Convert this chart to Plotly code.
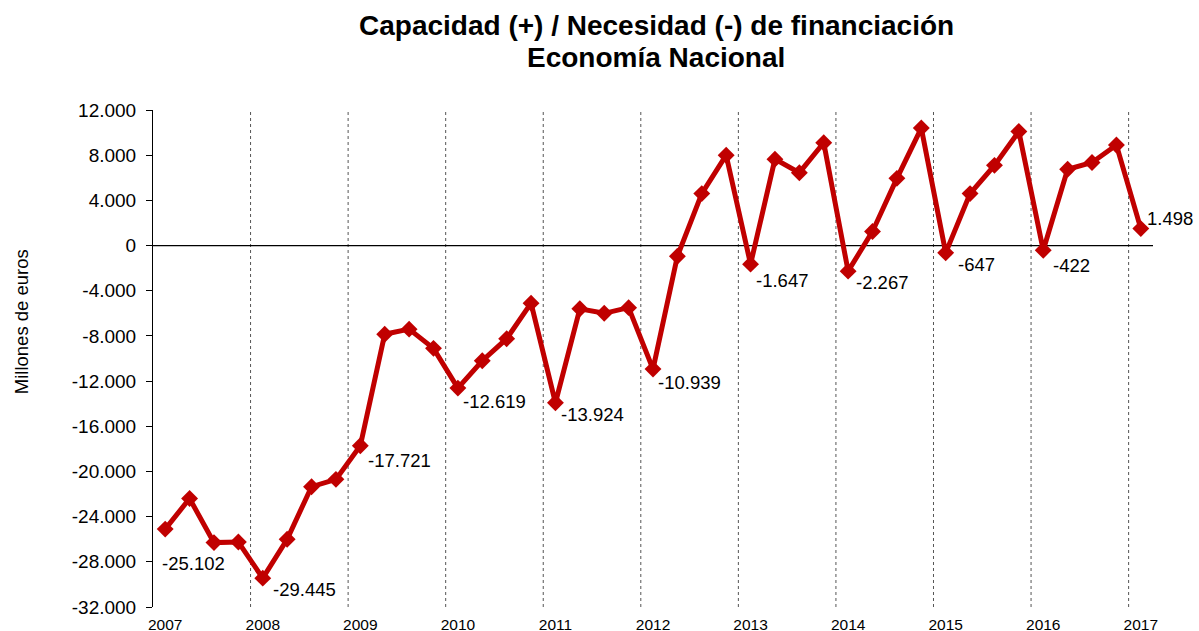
import plotly.graph_objects as go

quarters = [f"{y}T{q}" for y in range(2007, 2017) for q in range(1, 5)] + ["2017T1"]
values = [-25102, -22400, -26300, -26250, -29445, -26000, -21350, -20700,
          -17721, -7850, -7400, -9100, -12619, -10200, -8250, -5100,
          -13924, -5600, -6000, -5500, -10939, -950, 4600, 8000,
          -1647, 7650, 6450, 9100, -2267, 1250, 5950, 10400,
          -647, 4600, 7100, 10100, -422, 6750, 7350, 8900, 1498]
year_labels = [str(y) for y in range(2007, 2018)]
y_ticks = list(range(-32000, 12001, 4000))
title_lines = ["Capacidad (+) / Necesidad (-) de financiación", "Economía Nacional"]
labeled_idx = [0, 4, 8, 12, 16, 20, 24, 28, 32, 36, 40]
label_shifts = {0: (-5, -34), 4: (8, -11), 8: (6, -15), 12: (3, -13), 16: (4, -12),
                20: (3, -13), 24: (3, -16), 28: (6, -11), 32: (10, -12), 36: (8, -15), 40: (4, 10)}

FONT = "Liberation Sans, Arial, sans-serif"

def fmt(v):
    s = f"{abs(v):,}".replace(",", ".")
    return ("-" if v < 0 else "") + s

x = list(range(len(values)))
fig = go.Figure()
fig.add_trace(go.Scatter(
    x=x, y=values, mode="lines+markers",
    line=dict(color="#C00000", width=5),
    marker=dict(symbol="diamond", size=13, color="#C00000"),
    hovertext=quarters, showlegend=False))

for i in labeled_idx:
    dx, dy = label_shifts[i]
    fig.add_annotation(x=x[i], y=values[i], text=fmt(values[i]), showarrow=False,
                       xanchor="left", yanchor="middle", xshift=dx, yshift=dy,
                       font=dict(size=18.5, color="#000", family=FONT))

# dashed year separators
for k in range(1, 11):
    fig.add_shape(type="line", xref="x", yref="paper", x0=4 * k - 0.5, x1=4 * k - 0.5,
                  y0=0, y1=1, line=dict(color="#555", width=1, dash="dot"), layer="below")
# zero line
fig.add_shape(type="line", xref="paper", yref="y", x0=0, x1=1, y0=0, y1=0,
              line=dict(color="#000", width=1.2), layer="below")

fig.add_annotation(xref="paper", yref="paper", x=-0.132, xanchor="center",
                   y=0.573, yanchor="middle", text="Millones de euros",
                   textangle=-90, showarrow=False,
                   font=dict(size=18.5, color="#000", family=FONT))

# title (two lines placed separately)
for line, ypos in zip(title_lines, [1.171, 1.1066]):
    fig.add_annotation(xref="paper", yref="paper", x=0.503, xanchor="center",
                       y=ypos, yanchor="middle", text=f"<b>{line}</b>",
                       showarrow=False, font=dict(size=28, color="#000", family=FONT))

fig.update_layout(
    width=1199, height=631,
    margin=dict(l=153, r=46, t=110, b=24),
    paper_bgcolor="white", plot_bgcolor="white",
    font=dict(family=FONT, color="#000"),
    xaxis=dict(range=[-0.5, 40.5], tickvals=list(range(0, 41, 4)), ticktext=year_labels,
               showgrid=False, zeroline=False, showline=False, ticks="",
               tickfont=dict(size=15.5), ticklabelstandoff=6, automargin=False),
    yaxis=dict(range=[-32000, 12000], tickvals=y_ticks, ticktext=[fmt(v) for v in y_ticks],
               showgrid=False, zeroline=False, showline=True, linecolor="#000", linewidth=1,
               ticks="outside", ticklen=6, tickcolor="#000", tickfont=dict(size=19),
               ticklabelstandoff=6, automargin=False),
)
fig.write_html("out.html", post_script="document.body.style.margin='0';",
               config={"displayModeBar": False})
